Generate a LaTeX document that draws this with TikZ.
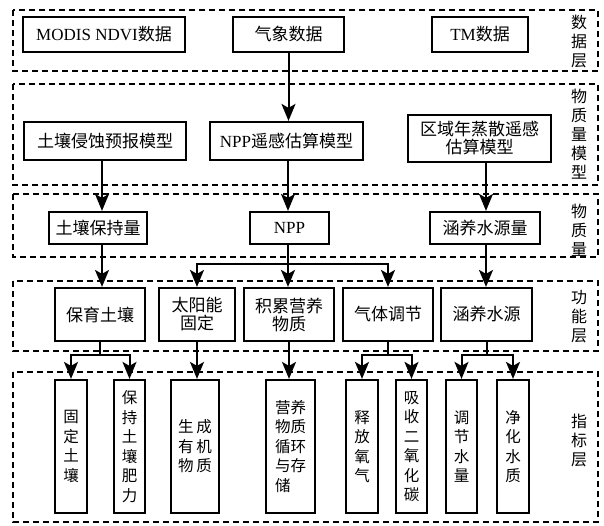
\documentclass[tikz,border=0pt]{standalone}
\usepackage{fontspec}
\setmainfont{Liberation Serif}
\newfontfamily\cjk{Noto Sans CJK SC}
\usetikzlibrary{arrows.meta}
\newcommand\hz{\fontsize{17}{20}\selectfont}
\newcommand\vt{\fontsize{15.5}{19.5}\selectfont\cjk}
\newcommand\lb{\fontsize{16}{19}\selectfont\cjk}
\tikzset{
  box/.style={draw, line width=2.2pt, fill=white, inner sep=0pt, align=center, font=\hz},
  vbox/.style={draw, line width=2.2pt, fill=white, inner sep=0pt, align=center, font=\vt},
  layer/.style={draw, line width=1.7pt, dash pattern=on 6pt off 4pt},
  arr/.style={line width=2pt, -{Stealth[length=17pt 0 0,width=14pt 0,inset=4pt 0]}},
  lab/.style={align=center, font=\lb, inner sep=0pt}
}
\begin{document}
\begin{tikzpicture}[x=1pt,y=-1pt]
\useasboundingbox[fill=white] (0,0) rectangle (604,525);
% layers
\draw[layer] (13,10) rectangle (598,71);
\draw[layer] (13,84) rectangle (598,185);
\draw[layer] (13,194) rectangle (598,257);
\draw[layer] (13,281) rectangle (598,351);
\draw[layer] (13,372) rectangle (598,522);
% layer labels
\node[lab] (l1) at (579,41) {数\\据\\层};
\node[lab] (l2) at (579,134) {物\\质\\量\\模\\型};
\node[lab] (l3) at (579,230) {物\\质\\量};
\node[lab] (l4) at (579,317) {功\\能\\层};
\node[lab] (l5) at (579,440) {指\\标\\层};
% column coordinates
\coordinate (c1) at (102,0);
\coordinate (c2) at (288,0);
\coordinate (c3) at (486,0);
\coordinate (b2) at (0,264);
\coordinate (b4) at (0,355);
% row 1
\node[box, minimum width=162, minimum height=35] (d1) at (104,34.5) {MODIS NDVI{\cjk 数据}};
\node[box, minimum width=111, minimum height=35] (d2) at (288.5,34.5) {\cjk 气象数据};
\node[box, minimum width=96, minimum height=35] (d3) at (480,34.5) {TM{\cjk 数据}};
% row 2
\node[box, minimum width=162, minimum height=38] (m1) at (105,141) {\cjk 土壤侵蚀预报模型};
\node[box, minimum width=153, minimum height=38] (m2) at (286.5,141) {NPP{\cjk 遥感估算模型}};
\node[box, minimum width=143, minimum height=47] (m3) at (479.5,138.5) {\cjk 区域年蒸散遥感\\[-2pt]\cjk 估算模型};
% row 3
\node[box, minimum width=98, minimum height=32] (q1) at (98,228) {\cjk 土壤保持量};
\node[box, minimum width=79, minimum height=32] (q2) at (289.5,228) {NPP};
\node[box, minimum width=110, minimum height=32] (q3) at (485,228) {\cjk 涵养水源量};
% row 4
\node[box, minimum width=90, minimum height=53] (f1) at (100,314.5) {\cjk 保育土壤};
\node[box, minimum width=76, minimum height=53] (f2) at (197,314.5) {\cjk 太阳能\\[-2pt]\cjk 固定};
\node[box, minimum width=90, minimum height=53] (f3) at (289,314.5) {\cjk 积累营养\\[-2pt]\cjk 物质};
\node[box, minimum width=90, minimum height=53] (f4) at (388,314.5) {\cjk 气体调节};
\node[box, minimum width=91, minimum height=53] (f5) at (486.5,314.5) {\cjk 涵养水源};
% row 5
\node[vbox, minimum width=32, minimum height=133] (i1) at (71,446.5) {固\\定\\土\\壤};
\node[vbox, minimum width=31, minimum height=133] (i2) at (129.5,446.5) {保\\持\\土\\壤\\肥\\力};
\node[vbox, minimum width=48, minimum height=133] (i3) at (195,446.5) {生\hspace{3pt}成\\有\hspace{3pt}机\\物\hspace{3pt}质};
\node[vbox, minimum width=49, minimum height=133, align=left] (i4) at (290.5,446.5) {营养\\物质\\循环\\与存\\储};
\node[vbox, minimum width=32, minimum height=133] (i5) at (362,446.5) {释\\放\\氧\\气};
\node[vbox, minimum width=31, minimum height=133] (i6) at (411.5,446.5) {吸\\收\\二\\氧\\化\\碳};
\node[vbox, minimum width=31, minimum height=133] (i7) at (461.5,446.5) {调\\节\\水\\量};
\node[vbox, minimum width=32, minimum height=133] (i8) at (513,446.5) {净\\化\\水\\质};
% connectors
\draw[arr] (d2.south) -- (d2.south |- m2.north);
\draw[arr] (m1.south -| c1) -- (q1.north -| c1);
\draw[arr] (m2.south -| c2) -- (q2.north -| c2);
\draw[arr] (m3.south -| c3) -- (q3.north -| c3);
\draw[arr] (q1.south -| c1) -- (f1.north -| c1);
\draw[arr] (q3.south -| c3) -- (f5.north -| c3);
\draw[arr] (q2.south -| c2) -- (f3.north -| c2);
\draw[arr] (b2 -| c2) -| (f2.north);
\draw[arr] (b2 -| c2) -| (f4.north);
% row 4 to row 5
\draw[arr] (f1.south) -- (f1.south |- b4) -| (i1.north);
\draw[arr] (f1.south |- b4) -| (i2.north);
\draw[arr] (f2.south) -- (f2.south |- i3.north);
\draw[arr] (f3.south) -- (f3.south |- i4.north);
\draw[arr] (f4.south) -- (f4.south |- b4) -| (i5.north);
\draw[arr] (f4.south |- b4) -| (i6.north);
\draw[arr] (f5.south) -- (f5.south |- b4) -| (i7.north);
\draw[arr] (f5.south |- b4) -| (i8.north);
\end{tikzpicture}
\end{document}
